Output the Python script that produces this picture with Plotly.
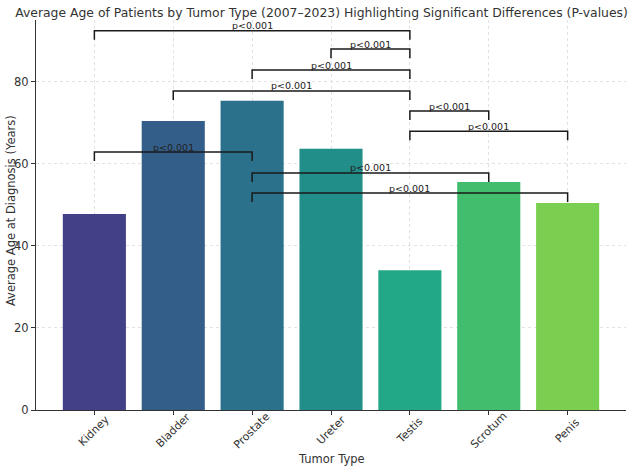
import plotly.graph_objects as go

categories = ["Kidney", "Bladder", "Prostate", "Ureter", "Testis", "Scrotum", "Penis"]
mean_age = [47.8, 70.5, 75.4, 63.7, 34.1, 55.6, 50.5]
bar_colors = ["#424086", "#345e8a", "#2b718b", "#218e89", "#22a886", "#42bc6d", "#7bcf50"]

# significant comparisons: (group a, group b, bracket height, label)
pair_a = ["Kidney", "Ureter", "Prostate", "Bladder", "Testis", "Testis", "Kidney", "Prostate", "Prostate"]
pair_b = ["Testis", "Testis", "Testis", "Testis", "Scrotum", "Penis", "Prostate", "Scrotum", "Penis"]
bracket_h = [92.5, 88.0, 82.9, 77.8, 72.9, 68.0, 62.9, 57.8, 52.9]
p_labels = ["p<0.001"] * 9

y_ticks = [0, 20, 40, 60, 80]

FONT = "DejaVu Sans"
TXT = "#333333"

fig = go.Figure()
idx = list(range(len(categories)))
fig.add_trace(go.Bar(x=idx, y=mean_age, width=0.8, marker=dict(color=bar_colors, line=dict(width=0)),
                     showlegend=False, hoverinfo="skip"))

tick_len = 2.2
for a, b, h, lab in zip(pair_a, pair_b, bracket_h, p_labels):
    i, j = categories.index(a), categories.index(b)
    fig.add_trace(go.Scatter(x=[i, i, j, j], y=[h - tick_len, h, h, h - tick_len], mode="lines",
                             line=dict(color="#1a1a1a", width=1.5), showlegend=False, hoverinfo="skip"))
    fig.add_annotation(x=(i + j) / 2, y=h, text=lab, showarrow=False, yanchor="bottom",
                       yshift=-2.5, font=dict(family=FONT, size=9.5, color="#222222"))

# rotated category labels, centred on ticks
for i, c in enumerate(categories):
    fig.add_annotation(x=i, y=-0.053, yref="paper", text=c, showarrow=False, textangle=-45,
                       xanchor="center", yanchor="middle", font=dict(family=FONT, size=11, color=TXT))

# axis titles
fig.add_annotation(x=0.5, y=0, xref="paper", yref="paper", yshift=-49, text="Tumor Type", showarrow=False,
                   xanchor="center", yanchor="middle", font=dict(family=FONT, size=11.5, color=TXT))
fig.add_annotation(x=0, y=0.51, xref="paper", yref="paper", xshift=-25, text="Average Age at Diagnosis (Years)",
                   showarrow=False, textangle=-90, xanchor="center", yanchor="middle",
                   font=dict(family=FONT, size=11.5, color=TXT))

fig.update_layout(
    width=640, height=472,
    margin=dict(l=36, r=14, t=20, b=62),
    paper_bgcolor="white", plot_bgcolor="white",
    font=dict(family=FONT, color=TXT),
    title=dict(text="Average Age of Patients by Tumor Type (2007–2023) Highlighting Significant Differences (P-values)",
               x=0.5024, xanchor="center", y=0.9735, yanchor="middle", font=dict(size=12.4, color=TXT)),
    bargap=0.2,
)
fig.update_xaxes(range=[-0.74, 6.74], tickvals=idx, ticktext=[""] * len(idx), automargin=False,
                 showgrid=True, gridcolor="#e2e2e2", griddash="dot", gridwidth=1,
                 showline=True, linecolor="#333333", linewidth=1.2,
                 ticks="outside", ticklen=4, tickcolor="#333333", layer="above traces",
                 zeroline=False)
fig.update_yaxes(range=[0, 95.1], tickvals=y_ticks, automargin=False,
                 showgrid=True, gridcolor="#e2e2e2", griddash="dot", gridwidth=1,
                 showline=True, linecolor="#333333", linewidth=1.2,
                 ticks="outside", ticklen=4, tickcolor="#333333", layer="above traces",
                 zeroline=False, tickfont=dict(size=11.5, color=TXT))

# remove the browser's default 8px body margin so the figure fills the window exactly
fig.write_html("out.html", config={"displayModeBar": False},
               post_script="document.body.style.margin='0';")
